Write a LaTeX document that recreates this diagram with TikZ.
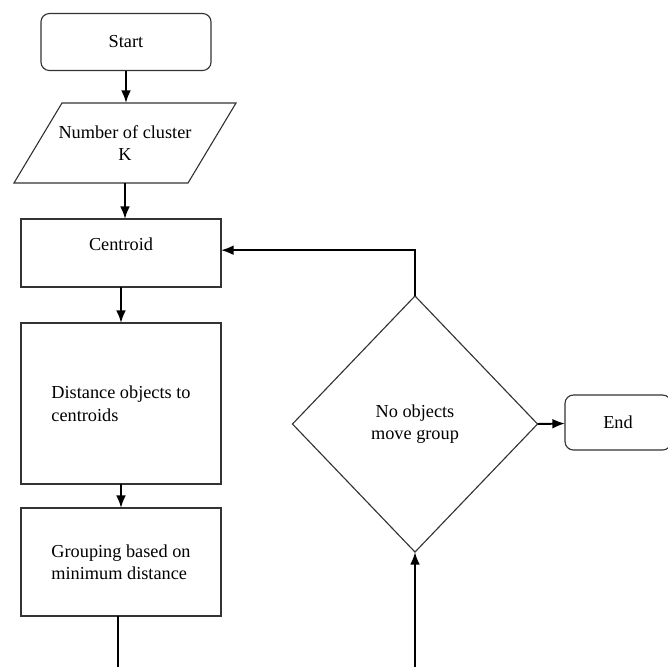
\documentclass[tikz,border=0pt]{standalone}
\usepackage{fontspec}
\setmainfont{Liberation Serif}
\usetikzlibrary{shapes.geometric,arrows.meta}

\begin{document}
\begin{tikzpicture}[x=0.025cm, y=-0.025cm,
   box/.style={draw=black!80, line width=0.8pt, outer sep=0pt, inner sep=2pt,
      font=\fontsize{13}{16}\selectfont},
   flow/.style={line width=1.4pt, -{Latex[length=9pt,width=7pt]}}]
   \clip (0,0) rectangle (668,666);
   \node[box, rounded corners=6pt, minimum width=4.25cm, minimum height=1.425cm] (start) at (126,42) {Start};
   \node[box, draw=none, minimum width=4.35cm, minimum height=2cm, align=center] (clusters) at (125,143)
      {Number of cluster\\K};
   \draw[black!80, line width=0.8pt] ([xshift=0.6cm]clusters.north west) -- ([xshift=0.6cm]clusters.north east)
      -- ([xshift=-0.6cm]clusters.south east) -- ([xshift=-0.6cm]clusters.south west) -- cycle;
   \node[box, minimum width=5cm, minimum height=1.7cm, text depth=12pt] (centroid) at (121,253) {Centroid};
   \node[box, minimum width=5cm, minimum height=4.025cm, align=left] (distance) at (121,403.5)
      {Distance objects to\\centroids};
   \node[box, minimum width=5cm, minimum height=2.7cm, align=left] (grouping) at (121,562)
      {Grouping based on\\minimum distance};
   \node[box, diamond, inner sep=0pt, minimum width=6.125cm, minimum height=6.4cm, align=center]
      (decision) at (415,424) {No objects\\move group};
   \node[box, rounded corners=6pt, minimum width=2.65cm, minimum height=1.375cm] (finish) at (618,422.5) {End};
   \draw[flow] (start.south) -- (start.south |- clusters.north);
   \draw[flow] (clusters.south) -- (clusters.south |- centroid.north);
   \draw[flow] (centroid) -- (distance);
   \draw[flow] (distance) -- (grouping);
   \draw[flow] (decision.east) -- (finish);
   \draw[flow] (decision.north) |- ([yshift=2pt]centroid.east);
   % loop back, runs under the lower edge
   \draw[flow] ([xshift=-2pt]grouping.south) -- ++(0,80) -| (decision.south);
\end{tikzpicture}
\end{document}
